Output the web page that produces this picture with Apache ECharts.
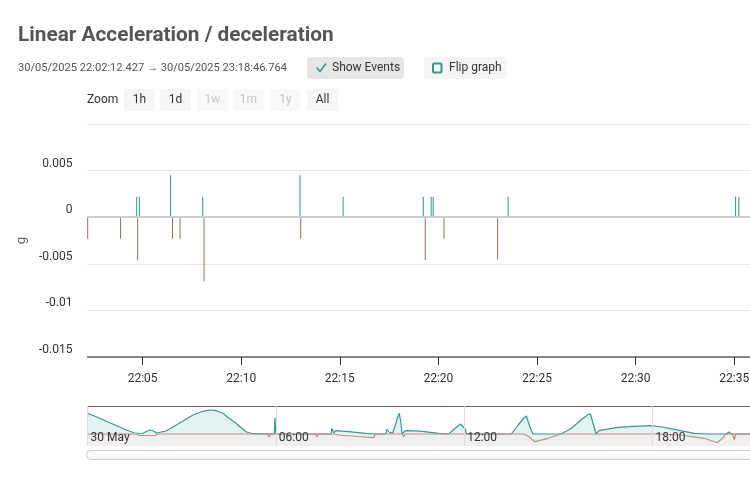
<!DOCTYPE html>
<html>
<head>
<meta charset="utf-8">
<title>Linear Acceleration / deceleration</title>
<script src="https://cdn.jsdelivr.net/npm/echarts@6/dist/echarts.min.js"></script>
<style>
  html, body { margin: 0; padding: 0; background: #fff; overflow: hidden; }
  #chart { width: 800px; height: 480px; }
</style>
</head>
<body>
<div id="chart"></div>
<script>
// events in the visible window (time of day on 30/05/2025, value in g)
var accelTimes = ['22:04:42', '22:04:50', '22:06:25', '22:08:03', '22:12:59', '22:15:10',
                  '22:19:14', '22:19:38', '22:19:44', '22:23:32', '22:35:04', '22:35:14'];
var accelValues = [0.0022, 0.0022, 0.0045, 0.0022, 0.0045, 0.0022,
                   0.0022, 0.0022, 0.0022, 0.0022, 0.0022, 0.0022];
var decelTimes = ['22:02:13', '22:03:53', '22:04:45', '22:06:31', '22:06:54',
                  '22:08:07', '22:13:01', '22:19:20', '22:20:17', '22:23:00'];
var decelValues = [-0.0023, -0.0023, -0.0046, -0.0023, -0.0023,
                   -0.0069, -0.0023, -0.0046, -0.0023, -0.0045];
var xTickTimes = ['22:05:00', '22:10:00', '22:15:00', '22:20:00', '22:25:00', '22:30:00', '22:35:00'];

// navigator overview (hours since 30 May 00:00, relative level)
var navAccelHours = [0, 0.39, 0.82, 1.24, 1.5, 1.75, 1.9, 2.0, 2.1, 2.2, 2.5, 2.83, 3.1, 3.36, 3.6, 3.78, 3.94, 4.1, 4.31,
  4.5, 4.73, 4.9, 5.05, 5.26, 5.95, 5.97, 6.0, 7.76, 7.78, 7.82, 7.85, 7.9, 8.33, 8.86, 9.17, 9.5, 9.54, 9.6, 9.65,
  9.72, 9.8, 9.87, 9.93, 9.98, 10.02, 10.06, 10.12, 10.6, 11.18, 11.5, 11.55, 11.76, 11.88, 11.94, 12.03, 12.08,
  13.5, 13.72, 13.9, 13.98, 14.09, 14.19, 15.09, 15.41, 15.72, 15.94, 16.02, 16.2, 16.25, 16.29, 16.89, 17.4,
  17.94, 18.3, 18.69, 19.32, 19.74, 20.35, 20.43, 20.5, 22.6];
var navAccelValues = [2.07, 1.57, 0.97, 0.4, 0.1, 0.05, 0.3, 0.4, 0.3, 0.1, 0.3, 0.9, 1.4, 1.9, 2.2, 2.33, 2.4, 2.33, 2.07,
  1.6, 1.07, 0.6, 0.23, 0.03, 0, 1.6, 0, 0, 0.57, 0.57, 0.1, 0.33, 0.23, 0.07, 0, 0, 0.47, 0.2, 0.3,
  0.1, 0.8, 1.6, 2.07, 1.2, 0, -0.2, 0.33, 0.28, 0.07, 0, 0, 0.7, 1.0, 1.07, 0.5, 0,
  0, 0.9, 1.6, 1.8, 0.73, 0, 0, 0.57, 1.4, 1.93, 2.0, 0, 0, 0.33, 0.67, 0.76,
  0.83, 0.7, 0.47, 0.07, 0, 0, 0.2, 0, 0];
var navDecelHours = [0, 1.55, 1.65, 2.15, 2.25, 5.75, 5.79, 5.83, 7.27, 7.31, 7.35, 7.85, 8.0, 8.6, 9.12, 9.17,
  10.03, 10.07, 10.11, 13.9, 14.03, 14.25, 14.67, 15.08, 16.17, 16.2, 16.23, 18.2, 18.9, 19.64, 20.06, 20.27,
  20.31, 20.55, 20.6, 20.65, 22.6];
var navDecelValues = [0, 0, -0.15, -0.15, 0, 0, -0.3, 0, 0, -0.3, 0, 0, -0.1, -0.25, -0.37, 0,
  0, -0.3, 0, 0, -0.2, -0.77, -0.43, 0, 0, -0.2, 0, 0, -0.1, -0.43, -0.87, -0.3,
  0, 0, -0.6, 0, 0];
var navTickHours = [0, 6, 12, 18];
var navTickLabels = ['30 May', '06:00', '12:00', '18:00'];

var FONT = 'Roboto, "Noto Sans", sans-serif';

function ts(hms) {
  var p = hms.split(':');
  return new Date(2025, 4, 30, +p[0], +p[1], +p[2]).getTime();
}
function pad(n) { return (n < 10 ? '0' : '') + n; }

var startTs = new Date(2025, 4, 30, 22, 2, 12, 427).getTime();
var endTs = ts('22:38:20');

var accelData = accelTimes.map(function (t, i) { return [ts(t), accelValues[i]]; });
var decelData = decelTimes.map(function (t, i) { return [ts(t), decelValues[i]]; });
var xTicks = xTickTimes.map(ts);
var navAccel = navAccelHours.map(function (h, i) { return [h, navAccelValues[i]]; });
var navDecel = navDecelHours.map(function (h, i) { return [h, navDecelValues[i]]; });

var teal = '#33968b';
var brown = '#9a6d68';

var graphic = [
  { type: 'text', x: 18, y: 35.5, style: { text: 'Linear Acceleration / deceleration', fontSize: 20.8, fontWeight: 'bold', fontFamily: FONT, fill: '#555', verticalAlign: 'middle' } },
  { type: 'text', x: 18, y: 68, style: { text: '30/05/2025 22:02:12.427 \u2192 30/05/2025 23:18:46.764', fontSize: 11.1, fontFamily: FONT, fill: '#555', verticalAlign: 'middle' } },
  { type: 'rect', shape: { x: 307, y: 57, width: 97, height: 22, r: 4 }, style: { fill: '#e5e7e7' } },
  { type: 'polyline', shape: { points: [[316.5, 67.5], [320, 71.5], [326, 63.5]] }, style: { stroke: teal, lineWidth: 1.5, fill: null } },
  { type: 'text', x: 332, y: 68, style: { text: 'Show Events', fontSize: 12, fontFamily: FONT, fill: '#333', verticalAlign: 'middle' } },
  { type: 'rect', shape: { x: 424, y: 57, width: 83, height: 22, r: 4 }, style: { fill: '#f4f6f6' } },
  { type: 'rect', shape: { x: 433, y: 63.5, width: 8.5, height: 9, r: 1.5 }, style: { fill: null, stroke: teal, lineWidth: 2 } },
  { type: 'text', x: 449, y: 68, style: { text: 'Flip graph', fontSize: 12, fontFamily: FONT, fill: '#333', verticalAlign: 'middle' } },
  { type: 'text', x: 87, y: 100, style: { text: 'Zoom', fontSize: 12, fontFamily: FONT, fill: '#333', verticalAlign: 'middle' } },
  { type: 'line', shape: { x1: 87.5, y1: 406.5, x2: 800, y2: 406.5 }, style: { stroke: '#666', lineWidth: 1 } },
  { type: 'rect', shape: { x: 86.5, y: 450.5, width: 713, height: 9, r: 4 }, style: { fill: '#fafafa', stroke: '#cccccc', lineWidth: 1 } }
];

var zoomButtons = [['1h', 124, true], ['1d', 160, true], ['1w', 197, false], ['1m', 233, false], ['1y', 270, false], ['All', 307, true]];
zoomButtons.forEach(function (b) {
  graphic.push({ type: 'rect', shape: { x: b[1], y: 89, width: 31, height: 22, r: 2 }, style: { fill: b[2] ? '#f6f6f6' : '#f9f9f9' } });
  graphic.push({ type: 'text', x: b[1] + 15.5, y: 100, style: { text: b[0], fontSize: 12, fontFamily: FONT, fill: b[2] ? '#333' : '#c8c8c8', align: 'center', verticalAlign: 'middle' } });
});

var chart = echarts.init(document.getElementById('chart'));
chart.setOption({
  animation: false,
  backgroundColor: '#fff',
  textStyle: { fontFamily: FONT },
  graphic: graphic,
  grid: [
    { left: 87.5, right: 0, top: 124, height: 233 },
    { left: 87.5, right: 0, top: 406, height: 40 }
  ],
  xAxis: [
    {
      type: 'value', gridIndex: 0, min: startTs, max: endTs, scale: true,
      axisLine: { onZero: false, lineStyle: { color: '#666', width: 1.5 } },
      axisTick: { show: true, length: 8, customValues: xTicks, lineStyle: { color: '#333' } },
      axisLabel: {
        customValues: xTicks, color: '#333', fontSize: 12, margin: 16,
        formatter: function (v) { var d = new Date(v); return pad(d.getHours()) + ':' + pad(d.getMinutes()); }
      },
      splitLine: { show: false }
    },
    {
      type: 'value', gridIndex: 1, min: 0, max: 22.6, interval: 6, z: 10,
      axisLine: { show: false, onZero: false },
      axisTick: { show: false },
      axisLabel: {
        inside: true, showMinLabel: true, align: 'left', padding: [0, 0, 0, 3], margin: 2, color: '#333', fontSize: 12,
        formatter: function (v) { var i = navTickHours.indexOf(v); return i < 0 ? '' : navTickLabels[i]; }
      },
      splitLine: { show: true, lineStyle: { color: '#dddddd' } }
    }
  ],
  yAxis: [
    {
      type: 'value', gridIndex: 0, min: -0.015, max: 0.01, interval: 0.005,
      name: 'g', nameLocation: 'middle', nameRotate: 90, nameGap: 53,
      nameTextStyle: { color: '#666', fontSize: 13 },
      axisLine: { show: false }, axisTick: { show: false },
      axisLabel: {
        color: '#333', fontSize: 12, margin: 15, verticalAlign: 'bottom', lineHeight: 14,
        formatter: function (v) { var r = Math.round(v * 1e6) / 1e6; return r > 0.009 ? '' : String(r); }
      },
      splitLine: { lineStyle: { color: '#e6e6e6' } }
    },
    { type: 'value', gridIndex: 1, min: -1.2, max: 2.8, show: false }
  ],
  series: [
    {
      name: 'Acceleration', type: 'bar', xAxisIndex: 0, yAxisIndex: 0,
      barWidth: 1, barGap: '-100%', data: accelData,
      itemStyle: { color: teal }
    },
    {
      name: 'Deceleration', type: 'bar', xAxisIndex: 0, yAxisIndex: 0,
      barWidth: 1, barGap: '-100%', data: decelData,
      itemStyle: { color: brown },
      markLine: {
        silent: true, symbol: ['none', 'none'], label: { show: false },
        lineStyle: { color: '#cccccc', width: 2, type: 'solid' },
        data: [{ yAxis: 0 }]
      }
    },
    {
      name: 'navAccel', type: 'line', xAxisIndex: 1, yAxisIndex: 1, data: navAccel,
      symbol: 'none', silent: true,
      lineStyle: { color: '#3a988d', width: 1.2 },
      areaStyle: { color: '#e3f3f2', opacity: 1, origin: 'start' }
    },
    {
      name: 'navDecel', type: 'line', xAxisIndex: 1, yAxisIndex: 1, data: navDecel,
      symbol: 'none', silent: true,
      lineStyle: { color: '#c98a86', width: 1.2 },
      areaStyle: { color: '#efefef', opacity: 1, origin: 'start' }
    }
  ]
});
</script>
</body>
</html>
